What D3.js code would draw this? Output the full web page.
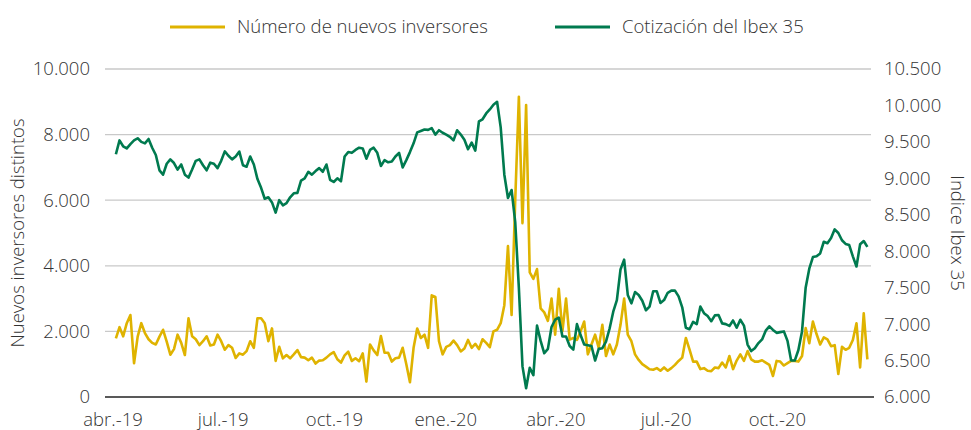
<!DOCTYPE html>
<html>
<head>
<meta charset="utf-8">
<script src="https://cdn.jsdelivr.net/npm/d3@7"></script>
<style>
  body { margin: 0; background: #fff; }
  svg text { font-family: "Open Sans", sans-serif; font-weight: 300; font-stretch: 100%; fill: #333; }
</style>
</head>
<body>
<div id="viz"></div>
<script>
const width = 971;
const height = 430;
const margin = { top: 69, right: 100, bottom: 33, left: 105 };

// one observation every 3 days starting 5 Apr 2019
const startDate = new Date(2019, 3, 5);
const stepDays = 3;

const inversores = [
  1790, 2130, 1850, 2250, 2500, 1030, 1840, 2250, 1950, 1760,
  1650, 1600, 1840, 2050, 1690, 1290, 1460, 1900, 1650, 1280,
  2400, 1850, 1760, 1580, 1700, 1850, 1570, 1600, 1900, 1700,
  1440, 1580, 1500, 1190, 1330, 1290, 1400, 1700, 1500, 2400,
  2400, 2250, 1700, 2090, 1100, 1530, 1180, 1280, 1180, 1300,
  1430, 1215, 1200, 1120, 1200, 1020, 1110, 1120, 1200, 1300,
  1370, 1150, 1050, 1270, 1380, 1100, 1180, 1090, 1330, 470,
  1600, 1420, 1280, 1860, 1350, 1350, 1080, 1180, 1200, 1500,
  1000, 450, 1500, 2090, 1800, 1900, 1500, 3100, 3050, 1700,
  1300, 1530, 1580, 1720, 1580, 1390, 1480, 1740, 1500, 1620,
  1460, 1760, 1650, 1520, 2000, 2050, 2250, 2800, 4600, 2500,
  6000, 9150, 5300, 8900, 3800, 3600, 3900, 2700, 2580, 2320,
  3000, 1900, 3300, 2000, 3000, 1750, 1800, 1740, 2000, 2300,
  1300, 1600, 1900, 1500, 2200, 1250, 1600, 1300, 1600, 2200,
  3000, 1900, 1700, 1300, 1130, 1000, 925, 845, 830, 880,
  800, 900, 800, 880, 980, 1100, 1200, 1800, 1450, 1080,
  1080, 850, 880, 800, 790, 900, 880, 1050, 900, 1250,
  850, 1110, 1300, 1100, 1400, 1150, 1080, 1080, 1120, 1050,
  980, 640, 1100, 1080, 960, 1030, 1100, 1100, 1080, 1250,
  2100, 1640, 2300, 1920, 1600, 1820, 1760, 1550, 1580, 700,
  1530, 1440, 1500, 1740, 2250, 900, 2550, 1150
];

const ibex = [
  9330, 9520, 9440, 9410, 9470, 9520, 9550, 9500, 9480, 9540,
  9420, 9320, 9110, 9050, 9200, 9260, 9210, 9120, 9190, 9050,
  9010, 9120, 9240, 9260, 9180, 9110, 9215, 9200, 9140, 9240,
  9370, 9310, 9260, 9300, 9366, 9180, 9160, 9300, 9190, 8990,
  8870, 8720, 8740, 8670, 8530, 8700, 8630, 8660, 8740, 8795,
  8800, 8970, 9000, 9090, 9050, 9100, 9140, 9090, 9190, 8980,
  8950, 9000, 8960, 9300, 9360, 9350, 9390, 9420, 9410, 9270,
  9390, 9420, 9350, 9170, 9250, 9220, 9230, 9300, 9350, 9150,
  9250, 9360, 9480, 9630, 9650, 9670, 9665, 9690, 9600, 9660,
  9625, 9600, 9570, 9520, 9660, 9600, 9530, 9400, 9490, 9380,
  9780, 9810, 9890, 9945, 10010, 10050, 9700, 9050, 8730, 8840,
  8400, 7500, 6420, 6120, 6400, 6300, 6980, 6770, 6600, 6660,
  6960, 7060, 7090, 6830, 6830, 6700, 6650, 7000, 6850, 6720,
  6710, 6700, 6500, 6660, 6670, 6760, 6940, 7170, 7330, 7750,
  7885, 7400, 7285, 7440, 7400, 7320, 7190, 7240, 7450, 7450,
  7290, 7330, 7430, 7460, 7460, 7380, 7230, 6950, 6930, 7030,
  7000, 7240, 7150, 7110, 7040, 7120, 7125, 7010, 7000, 6975,
  7050, 6950, 7060, 6980, 6720, 6630, 6670, 6740, 6790, 6910,
  6970, 6920, 6880, 6890, 6900, 6770, 6500, 6500, 6645, 6900,
  7500, 7760, 7920, 7930, 7970, 8130, 8110, 8180, 8300, 8250,
  8150, 8100, 8085, 7930, 7790, 8095, 8140, 8060
];

const xTickDates = [
  new Date(2019, 3, 1), new Date(2019, 6, 1), new Date(2019, 9, 1), new Date(2020, 0, 1),
  new Date(2020, 3, 1), new Date(2020, 6, 1), new Date(2020, 9, 1)
];
const xTickLabels = ['abr.-19', 'jul.-19', 'oct.-19', 'ene.-20', 'abr.-20', 'jul.-20', 'oct.-20'];
const leftTicks = [0, 2000, 4000, 6000, 8000, 10000];
const rightTicks = [6000, 6500, 7000, 7500, 8000, 8500, 9000, 9500, 10000, 10500];

const seriesNames = ['Número de nuevos inversores', 'Cotización del Ibex 35'];
const yellow = '#dfb300';
const green = '#007a4f';
const fontSize = '18.5px';

const dates = inversores.map((_, i) => d3.timeDay.offset(startDate, i * stepDays));

const es = d3.formatLocale({ decimal: ',', thousands: '.', grouping: [3], currency: ['', ' €'] });
const fmt = es.format(',d');

const svg = d3.create('svg')
  .attr('width', width)
  .attr('height', height);

const x = d3.scaleTime()
  .domain([new Date(2019, 2, 27), new Date(2020, 11, 19)])
  .range([margin.left, width - margin.right]);

const yLeft = d3.scaleLinear()
  .domain([0, 10000])
  .range([height - margin.bottom, margin.top]);

const yRight = d3.scaleLinear()
  .domain([6000, 10500])
  .range([height - margin.bottom, margin.top]);

// gridlines (left axis)
svg.append('g')
  .selectAll('line')
  .data(leftTicks.filter(d => d > 0))
  .enter()
  .append('line')
    .attr('x1', margin.left)
    .attr('x2', width - margin.right)
    .attr('y1', d => yLeft(d))
    .attr('y2', d => yLeft(d))
    .attr('stroke', '#c9c9c9')
    .attr('stroke-width', 1.3);

// baseline
svg.append('line')
  .attr('x1', margin.left)
  .attr('x2', width - margin.right + 3)
  .attr('y1', yLeft(0))
  .attr('y2', yLeft(0))
  .attr('stroke', '#222')
  .attr('stroke-width', 1.4);

// left tick labels
svg.append('g')
  .selectAll('text')
  .data(leftTicks)
  .enter()
  .append('text')
    .attr('x', 90)
    .attr('y', d => yLeft(d))
    .attr('dy', '0.35em')
    .style('text-anchor', 'end')
    .style('font-size', fontSize)
    .text(d => fmt(d));

// right tick labels
svg.append('g')
  .selectAll('text')
  .data(rightTicks)
  .enter()
  .append('text')
    .attr('x', 884)
    .attr('y', d => yRight(d))
    .attr('dy', '0.35em')
    .style('text-anchor', 'start')
    .style('font-size', fontSize)
    .text(d => fmt(d));

// x tick labels (sit on the bottom edge, as in the original)
svg.append('g')
  .selectAll('text')
  .data(xTickDates)
  .enter()
  .append('text')
    .attr('x', d => x(d) + 2)
    .attr('y', 426)
    .style('text-anchor', 'middle')
    .style('font-size', fontSize)
    .text((d, i) => xTickLabels[i]);

// axis titles
svg.append('text')
  .attr('transform', `translate(18, ${yLeft(5000)}) rotate(-90)`)
  .attr('dy', '0.35em')
  .style('text-anchor', 'middle')
  .style('font-size', fontSize)
  .text('Nuevos inversores distintos');

svg.append('text')
  .attr('transform', `translate(957, ${yLeft(5000)}) rotate(90)`)
  .attr('dy', '0.35em')
  .style('text-anchor', 'middle')
  .style('font-size', fontSize)
  .text('Indice Ibex 35');

// lines
const lineLeft = d3.line()
  .x((d, i) => x(dates[i]))
  .y(d => yLeft(d));

const lineRight = d3.line()
  .x((d, i) => x(dates[i]))
  .y(d => yRight(d));

svg.append('path')
  .datum(inversores)
  .attr('fill', 'none')
  .attr('stroke', yellow)
  .attr('stroke-width', 2.6)
  .attr('stroke-linejoin', 'round')
  .attr('d', lineLeft);

svg.append('path')
  .datum(ibex)
  .attr('fill', 'none')
  .attr('stroke', green)
  .attr('stroke-width', 2.6)
  .attr('stroke-linejoin', 'round')
  .attr('d', lineRight);

// legend
const legend = svg.selectAll('.legend')
  .data(seriesNames)
  .enter()
  .append('g')
  .attr('class', 'legend')
  .attr('transform', (d, i) => `translate(${i === 0 ? 170 : 555}, 27)`);

legend.append('line')
  .attr('x1', 0)
  .attr('x2', 55)
  .attr('stroke', (d, i) => i === 0 ? yellow : green)
  .attr('stroke-width', 3);

legend.append('text')
  .attr('x', 67)
  .attr('dy', '0.35em')
  .style('font-size', fontSize)
  .text(d => d);

d3.select('#viz').node().appendChild(svg.node());
</script>
</body>
</html>
